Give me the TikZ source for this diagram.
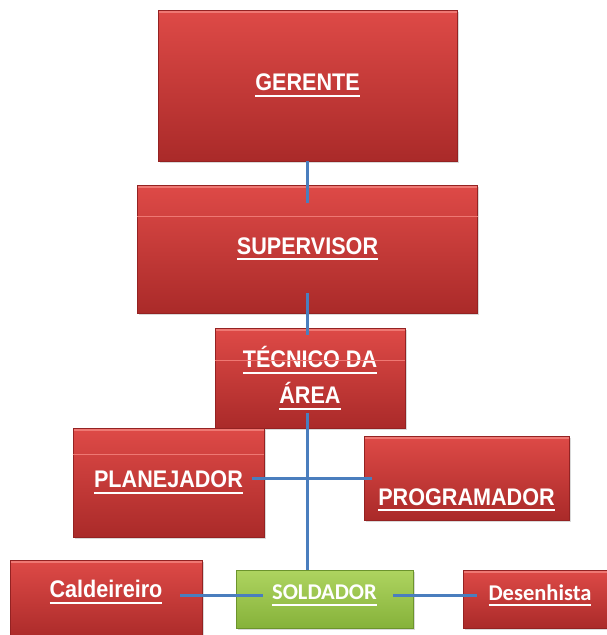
\documentclass[tikz,border=0pt]{standalone}
\usepackage{fontspec}
\newfontfamily\boxfont{Liberation Sans}[FakeStretch=0.9]
\newfontfamily\calfont{Carlito}
\usetikzlibrary{shadows}
\definecolor{boxtop}{RGB}{222,74,71}
\definecolor{boxbot}{RGB}{170,42,41}
\definecolor{boxedge}{RGB}{148,34,34}
\definecolor{boxhi}{RGB}{238,120,115}
\definecolor{leaftop}{RGB}{174,212,96}
\definecolor{leafbot}{RGB}{134,178,58}
\definecolor{leafedge}{RGB}{108,148,44}
\definecolor{linkblue}{RGB}{74,126,190}
\newcommand\lbl[1]{\setbox0=\hbox{#1}\leavevmode\rlap{\copy0}\rule[-6pt]{\wd0}{2pt}}
\begin{document}
\begin{tikzpicture}
  [x=1pt,y=-1pt,
   boxbase/.style={rectangle,inner sep=0pt,text=white,line width=.6pt,
     drop shadow={shadow xshift=1.5pt,shadow yshift=-2pt,opacity=.3}},
   redbox/.style={boxbase,draw=boxedge,top color=boxtop,bottom color=boxbot,
     font=\boxfont\bfseries\fontsize{24}{36}\selectfont,
     path picture={\fill[boxhi] (path picture bounding box.north west)
       rectangle ([yshift=-3pt]path picture bounding box.north east);}},
   greenbox/.style={boxbase,draw=leafedge,top color=leaftop,bottom color=leafbot},
   calbox/.style={font=\calfont\bfseries\fontsize{22.5}{30}\selectfont,text depth=13pt},
   band/.style={append after command={
     ([yshift=-#1]\tikzlastnode.north west) edge[draw=boxhi,line width=1.5pt]
     ([yshift=-#1]\tikzlastnode.north east)}},
   link/.style={draw=linkblue,line width=3pt}]

  \useasboundingbox (0,0) rectangle (606,635);

  \def\X{307.5}

  \node[redbox,minimum width=299pt,minimum height=151pt] (gerente) at (\X,85.5) {\lbl{GERENTE}};

  \node[redbox,band=32pt,minimum width=340pt,minimum height=128pt] (supervisor) at (\X,249) {\lbl{SUPERVISOR}};

  \node[redbox,band=33pt,align=center,minimum width=190pt,minimum height=100pt] (tecnico) at (310,378) {\lbl{TÉCNICO DA}\\\lbl{ÁREA}};

  \node[redbox,band=27pt,minimum width=191pt,minimum height=109pt] (planejador) at (168.5,482.5) {\lbl{PLANEJADOR}};

  \node[redbox,minimum width=205pt,minimum height=84pt,text height=60pt] (programador) at (466.5,478) {\lbl{PROGRAMADOR}};

  \node[redbox,minimum width=192pt,minimum height=80pt,text depth=22pt] (caldeireiro) at (106,600) {\lbl{Caldeireiro}};

  \node[greenbox,calbox,minimum width=177pt,minimum height=58pt] (soldador) at (324.5,599) {\lbl{SOLDADOR}};

  \node[redbox,calbox,minimum width=154pt,minimum height=58pt] (desenhista) at (540,599) {\lbl{Desenhista}};

  \coordinate (lowlink) at ([yshift=4pt]soldador.west);

  \draw[link,shorten >=-18pt] (gerente.south) -- (gerente.south |- supervisor.north);
  \draw[link,shorten <=-20pt,shorten >=-7pt] (supervisor.south) -- (supervisor.south |- tecnico.north);
  \draw[link,shorten <=-15pt] (supervisor.south |- tecnico.south) -- (supervisor.south |- soldador.north);
  \draw[link,shorten <=-12pt,shorten >=-8pt] (planejador.east |- programador.west) -- (programador.west);
  \draw[link,shorten <=-22pt,shorten >=-27pt] (caldeireiro.east |- lowlink) -- (lowlink);
  \draw[link,shorten <=-20pt,shorten >=-14pt] (lowlink -| soldador.east) -- (lowlink -| desenhista.west);
\end{tikzpicture}
\end{document}
